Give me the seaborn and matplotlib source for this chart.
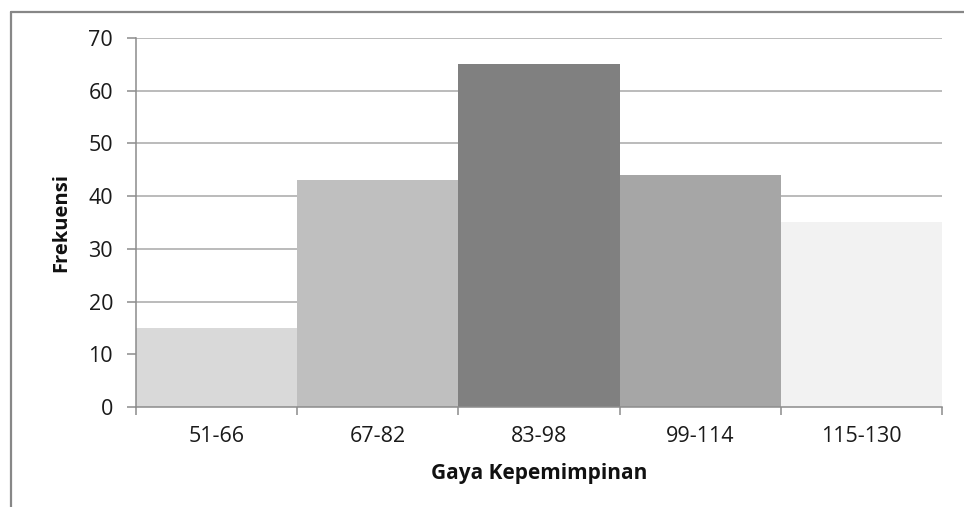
import matplotlib
matplotlib.use('Agg')
import matplotlib.pyplot as plt
from matplotlib.lines import Line2D
import seaborn as sns
import pandas as pd

# Data
kelas = ['51-66', '67-82', '83-98', '99-114', '115-130']
frekuensi = [15, 43, 65, 44, 35]
warna = ['#d9d9d9', '#bfbfbf', '#808080', '#a6a6a6', '#f2f2f2']
y_ticks = [0, 10, 20, 30, 40, 50, 60, 70]

sns.set_style('white')
plt.rcParams['font.family'] = ['Open Sans', 'DejaVu Sans']

df = pd.DataFrame({'kelas': kelas, 'frekuensi': frekuensi})

fig = plt.figure(figsize=(9.64, 5.07), dpi=100)
ax = fig.add_axes([136 / 964, 1 - 407 / 507, 806 / 964, 369 / 507])

sns.barplot(data=df, x='kelas', y='frekuensi', hue='kelas', palette=warna,
            width=1.0, legend=False, saturation=1, linewidth=0, ax=ax)

ax.set_xlim(-0.5, len(kelas) - 0.5)
ax.set_ylim(0, 70)
ax.set_yticks(y_ticks)
ax.set_axisbelow(True)
ax.yaxis.grid(True, color='#a8a8a8', linewidth=1.1)
ax.xaxis.grid(False)

for s in ['top', 'right']:
    ax.spines[s].set_visible(False)
for s in ['left', 'bottom']:
    ax.spines[s].set_color('#8c8c8c')
    ax.spines[s].set_linewidth(1.1)

# ticks at the category boundaries on x
ax.set_xticks([i - 0.5 for i in range(len(kelas) + 1)], minor=True)
ax.tick_params(axis='x', which='major', length=0, pad=14, labelsize=15.5, colors='#1a1a1a')
ax.tick_params(axis='x', which='minor', length=6, width=1.1, color='#8c8c8c', bottom=True)
ax.tick_params(axis='y', length=6.5, width=1.1, color='#8c8c8c', pad=10, labelsize=15.5,
               labelcolor='#1a1a1a', left=True)

ax.set_xlabel('Gaya Kepemimpinan', fontsize=15, fontweight='bold', color='#111111', va='center')
ax.set_ylabel('Frekuensi', fontsize=14.5, fontweight='bold', color='#111111', va='center')
ax.xaxis.set_label_coords(0.5, -0.18)
ax.yaxis.set_label_coords(-0.093, 0.5)

# outer chart frame (left and top edges visible)
fx = 10.5 / 964
fy = 1 - 12 / 507
fig.add_artist(Line2D([fx, fx], [0, fy], color='#878787', linewidth=1.6, transform=fig.transFigure))
fig.add_artist(Line2D([fx, 1], [fy, fy], color='#878787', linewidth=1.6, transform=fig.transFigure))

fig.savefig('out.png', dpi=100)
